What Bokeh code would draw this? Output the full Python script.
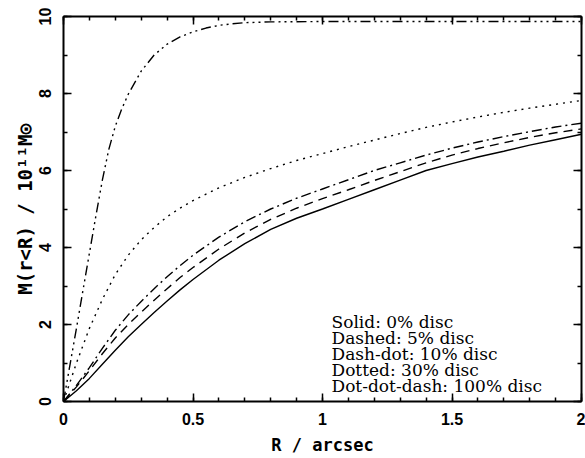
import math
from bokeh.plotting import figure
from bokeh.models import Label, LinearAxis, SingleIntervalTicker, Range1d, CustomJSTickFormatter
from bokeh.embed import file_html
from bokeh.resources import INLINE

# ---------------- data ----------------
R_solid = [0, 0.05, 0.1, 0.15, 0.2, 0.25, 0.3, 0.35, 0.4, 0.45, 0.5, 0.6, 0.7, 0.8, 0.9,
           1.0, 1.1, 1.2, 1.3, 1.4, 1.5, 1.6, 1.7, 1.8, 1.9, 2.0]
M_solid = [0, 0.28, 0.60, 0.97, 1.33, 1.68, 2.00, 2.31, 2.61, 2.90, 3.17, 3.67, 4.10, 4.47, 4.76,
           5.00, 5.25, 5.50, 5.75, 6.00, 6.18, 6.35, 6.50, 6.66, 6.80, 6.94]

R_dashed = R_solid
M_dashed = [0, 0.38, 0.80, 1.24, 1.65, 2.00, 2.32, 2.63, 2.93, 3.22, 3.48, 3.96, 4.38, 4.73, 5.02,
            5.27, 5.50, 5.74, 5.97, 6.20, 6.40, 6.57, 6.72, 6.86, 6.98, 7.08]

R_dashdot = R_solid
M_dashdot = [0, 0.42, 0.88, 1.38, 1.85, 2.25, 2.60, 2.93, 3.24, 3.53, 3.80, 4.27, 4.67, 5.00, 5.28,
             5.52, 5.76, 6.00, 6.20, 6.40, 6.58, 6.74, 6.88, 7.01, 7.13, 7.23]

R_dotted = R_solid
M_dotted = [0, 1.00, 1.90, 2.65, 3.30, 3.80, 4.20, 4.52, 4.80, 5.02, 5.22, 5.55, 5.82, 6.05, 6.26,
            6.44, 6.62, 6.79, 6.96, 7.12, 7.26, 7.39, 7.51, 7.62, 7.72, 7.82]

R_dotdotdash = [0, 0.025, 0.05, 0.075, 0.1, 0.125, 0.15, 0.175, 0.2, 0.225, 0.25, 0.3, 0.35, 0.4,
                0.45, 0.5, 0.55, 0.6, 0.65, 0.7, 0.8, 1.0, 1.5, 2.0]
M_dotdotdash = [0, 0.95, 1.90, 2.88, 3.85, 4.82, 5.75, 6.55, 7.15, 7.60, 7.98, 8.58, 9.00, 9.28,
                9.47, 9.60, 9.70, 9.77, 9.81, 9.84, 9.86, 9.87, 9.87, 9.87]

legend_lines = ["Solid: 0% disc", "Dashed: 5% disc", "Dash-dot: 10% disc",
                "Dotted: 30% disc", "Dot-dot-dash: 100% disc"]

x_label = "R / arcsec"
y_label = "M(r<R) / 10\u00b9\u00b9M\u2299"

# ---------------- figure ----------------
W, H = 585, 458
FL, FR, FT, FB = 63, 4, 16, 57   # borders in canvas px

p = figure(width=W, height=H, output_backend="svg", toolbar_location=None,
           x_range=Range1d(0, 2), y_range=Range1d(0, 10),
           x_axis_location=None, y_axis_location=None,
           min_border_left=FL, min_border_right=FR, min_border_top=FT, min_border_bottom=FB)
p.grid.visible = False
p.outline_line_color = None
p.background_fill_color = "white"
p.border_fill_color = "white"


def style_axis(ax, show_labels):
    ax.axis_line_width = 2
    ax.axis_line_color = "black"
    ax.major_tick_in = 8
    ax.major_tick_out = 0
    ax.minor_tick_in = 4
    ax.minor_tick_out = 0
    ax.major_tick_line_width = 1.5
    ax.minor_tick_line_width = 1.5
    ax.major_tick_line_color = "black"
    ax.minor_tick_line_color = "black"
    if show_labels:
        ax.major_label_text_font = "Liberation Sans"
        ax.major_label_text_font_style = "bold"
        ax.major_label_text_font_size = "16px"
        ax.major_label_text_color = "black"
    else:
        ax.formatter = CustomJSTickFormatter(code="return ''")
        ax.major_label_standoff = 0


xt = SingleIntervalTicker(interval=0.5, num_minor_ticks=5)
yt = SingleIntervalTicker(interval=2, num_minor_ticks=2)

lab_font = "DejaVu Sans Mono"

xb = LinearAxis(ticker=xt); style_axis(xb, True)
xb.major_label_standoff = 11
xb.axis_label = x_label
xb.axis_label_text_font = lab_font
xb.axis_label_text_font_style = "bold"
xb.axis_label_text_font_size = "17px"
xb.axis_label_text_color = "black"
xb.axis_label_standoff = 7

yl = LinearAxis(ticker=yt); style_axis(yl, True)
yl.major_label_orientation = "vertical"
yl.major_label_standoff = 13
yl.axis_label = y_label
yl.axis_label_text_font = lab_font
yl.axis_label_text_font_style = "bold"
yl.axis_label_text_font_size = "19px"
yl.axis_label_text_color = "black"
yl.axis_label_standoff = 0

xa = LinearAxis(ticker=xt); style_axis(xa, False)
yr = LinearAxis(ticker=yt); style_axis(yr, False)
p.add_layout(xb, "below")
p.add_layout(xa, "above")
p.add_layout(yl, "left")
p.add_layout(yr, "right")

lw = 1.4
p.line(R_solid, M_solid, line_color="black", line_width=lw)
p.line(R_dashed, M_dashed, line_color="black", line_width=lw, line_dash="9 6")
p.line(R_dashdot, M_dashdot, line_color="black", line_width=lw, line_dash="10 4 2 4")
p.line(R_dotted, M_dotted, line_color="black", line_width=lw, line_dash="2 5")
p.line(R_dotdotdash, M_dotdotdash, line_color="black", line_width=lw,
       line_dash="10 4 2 4 2 4 2 4")

# legend text block, positioned in px relative to the frame's bottom-left corner
leg_left = 331 - FL
leg_top = (H - FB) - 321
for i, t in enumerate(legend_lines):
    p.add_layout(Label(x=leg_left, y=leg_top - 16 * i, x_units="screen", y_units="screen",
                       text=t, text_font="DejaVu Serif",
                       text_font_size="17px", text_baseline="middle", text_align="left",
                       text_color="black"))

open("out.html", "w").write(file_html(p, INLINE))
